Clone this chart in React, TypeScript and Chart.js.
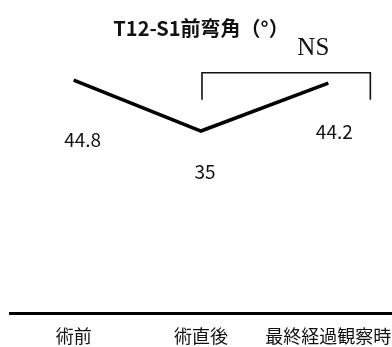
import React, { useEffect, useRef } from "react";
import { Chart, registerables } from "chart.js";

Chart.register(...registerables);

const categories = ["術前", "術直後", "最終経過観察時"];
const values = [44.8, 35, 44.2];
const valueLabels = ["44.8", "35", "44.2"];
const titleText = "T12-S1前弯角（°）";
const bracketFrom = 1;
const bracketTo = 2;
const bracketTopValue = 46.2;
const bracketBottomValue = 41;
const sigText = "NS";

const labelOffsets = [
  [9, 60],
  [4, 41],
  [6, 49],
];

const JP = "'Noto Sans CJK JP', 'Noto Sans', sans-serif";

const overlayPlugin = {
  id: "overlay",
  afterDatasetsDraw(chart: any) {
    const ctx = chart.ctx;
    const meta = chart.getDatasetMeta(0);
    const xs = chart.scales.x;
    const ys = chart.scales.y;
    ctx.save();
    ctx.fillStyle = "#111";
    ctx.font = `19px ${JP}`;
    ctx.textAlign = "center";
    ctx.textBaseline = "middle";
    meta.data.forEach((pt: any, i: number) => {
      const [dx, dy] = labelOffsets[i];
      ctx.fillText(valueLabels[i], pt.x + dx, pt.y + dy);
    });
    // bracket
    const left = xs.getPixelForValue(bracketFrom) + 1;
    const right = xs.getPixelForValue(bracketTo) + 42;
    const top = ys.getPixelForValue(bracketTopValue);
    const bottom = ys.getPixelForValue(bracketBottomValue);
    ctx.strokeStyle = "#111";
    ctx.lineWidth = 1.6;
    ctx.beginPath();
    ctx.moveTo(left, bottom);
    ctx.lineTo(left, top);
    ctx.lineTo(right, top);
    ctx.lineTo(right, bottom);
    ctx.stroke();
    ctx.font = "25px 'Liberation Serif', 'DejaVu Serif', serif";
    ctx.textBaseline = "alphabetic";
    ctx.fillText(sigText, right - 57, top - 18);
    ctx.restore();
  },
};

export default function App() {
  const ref = useRef<HTMLCanvasElement | null>(null);
  useEffect(() => {
    if (!ref.current) return;
    const chart = new Chart(ref.current, {
      type: "line",
      data: {
        labels: categories,
        datasets: [
          {
            data: values,
            borderColor: "#000",
            borderWidth: 3.5,
            pointRadius: 0,
            tension: 0,
            fill: false,
          },
        ],
      },
      options: {
        responsive: false,
        animation: false,
        layout: { padding: { left: 10, right: 0, top: 0, bottom: 0 } },
        scales: {
          x: {
            offset: true,
            grid: { display: false, drawTicks: false },
            border: { display: true, color: "#000", width: 3 },
            ticks: { color: "#111", font: { family: JP, size: 18 }, padding: 12, maxRotation: 0, autoSkip: false },
            afterFit: (scale: any) => {
              scale.height = 34;
              scale.paddingLeft = 0;
              scale.paddingRight = 0;
            },
          },
          y: { display: false, min: 0, max: 50 },
        },
        plugins: {
          legend: { display: false },
          tooltip: { enabled: false },
          title: {
            display: true,
            text: titleText,
            color: "#111",
            font: { family: JP, size: 20, weight: "bold" },
            padding: { top: 16, bottom: 13 },
          },
        },
      },
      plugins: [overlayPlugin],
    });
    return () => chart.destroy();
  }, []);
  return (
    <div style={{ position: "absolute", left: 0, top: 0, width: 392, height: 347, background: "#fff" }}>
      <canvas ref={ref} width={392} height={347} style={{ display: "block" }} />
    </div>
  );
}
